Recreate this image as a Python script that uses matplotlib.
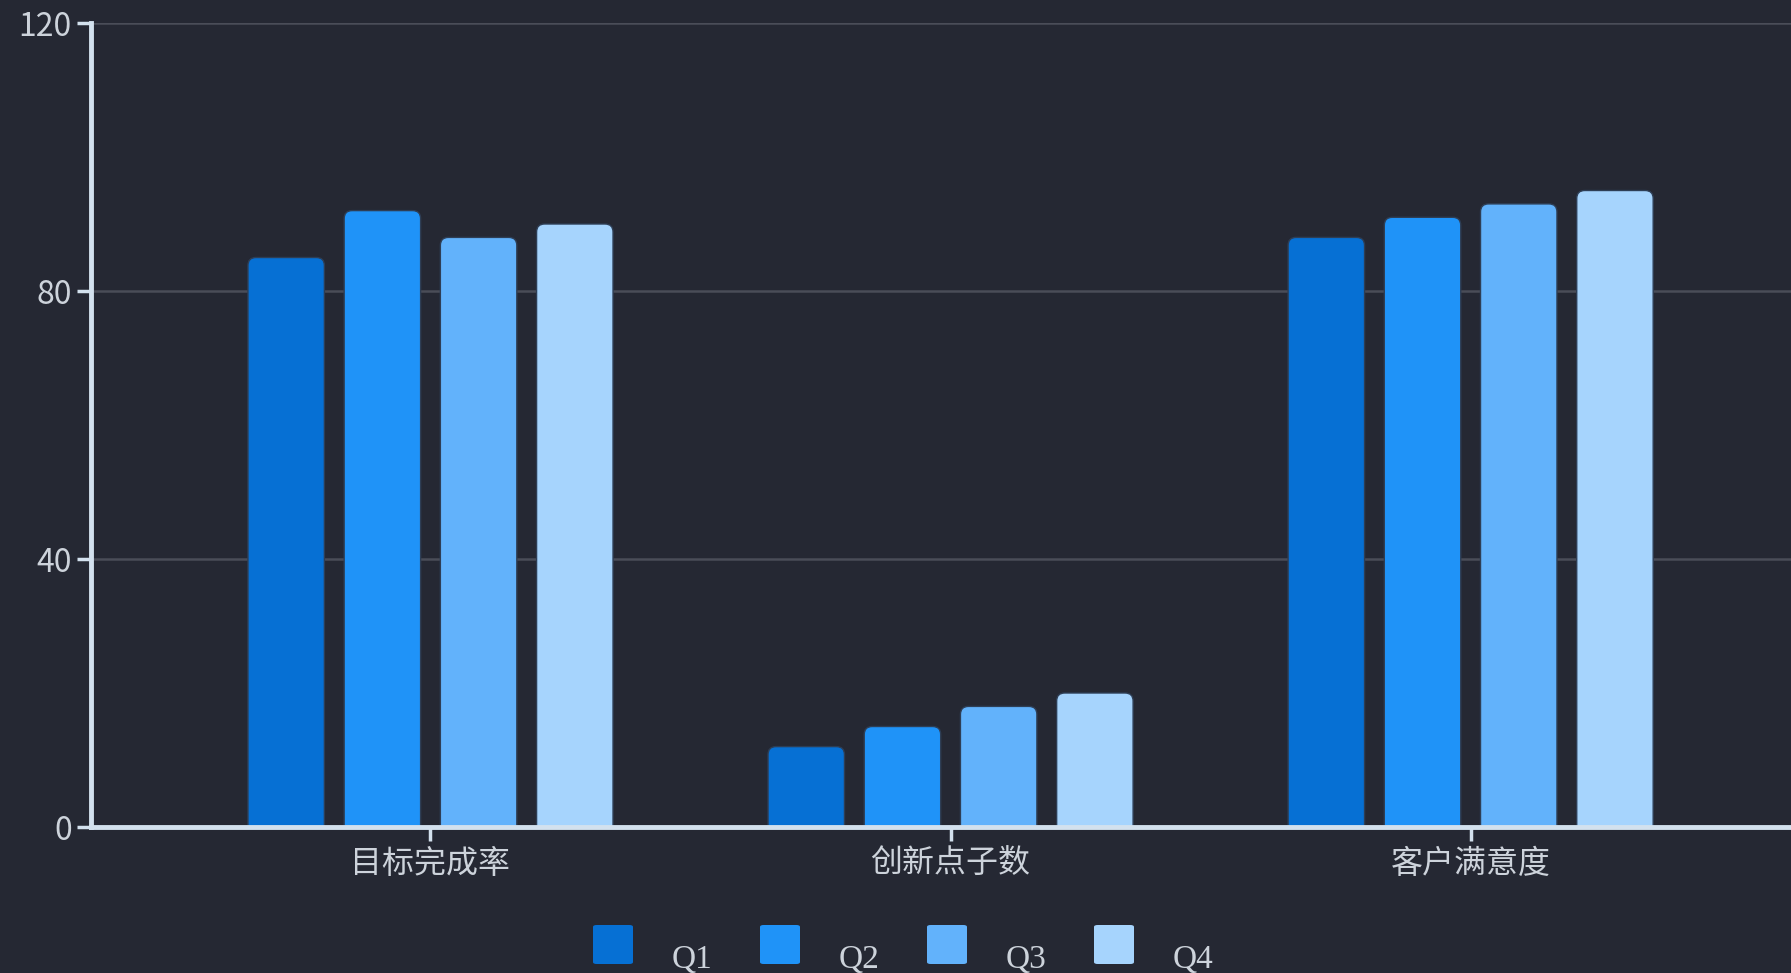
import matplotlib
matplotlib.use('Agg')
import matplotlib.pyplot as plt
from matplotlib.patches import FancyBboxPatch
import numpy as np

# data
categories = ['目标完成率', '创新点子数', '客户满意度']
quarters = ['Q1', 'Q2', 'Q3', 'Q4']
q1 = [85, 12, 88]
q2 = [92, 15, 91]
q3 = [88, 18, 93]
q4 = [90, 20, 95]
yticks = [0, 40, 80, 120]

colors = ['#0670D4', '#1F93F8', '#62B2FB', '#A6D4FD']
bg = '#252833'
axis_col = '#D3E1EE'
text_col = '#CDD3DB'
grid_col = '#4A4D58'

plt.rcParams['font.family'] = ['Noto Sans CJK SC', 'DejaVu Sans']

W, H = 1791, 973
fig = plt.figure(figsize=(W / 100, H / 100), dpi=100, facecolor=bg)
ax_l, ax_r, ax_b, ax_t = 91.4, 1791, 827, 23
ax = fig.add_axes([ax_l / W, 1 - ax_b / H, (ax_r - ax_l) / W, (ax_b - ax_t) / H])
ax.set_facecolor(bg)

xlim = (-0.652, 2.616)
ylim = (0, 120)
ax.set_xlim(*xlim)
ax.set_ylim(*ylim)

x = np.arange(len(categories))
step = 0.185
width = 0.147
series = [q1, q2, q3, q4]

# pixels per data unit, used for rounded corners
px_x = (ax_r - ax_l) / (xlim[1] - xlim[0])
px_y = (ax_b - ax_t) / (ylim[1] - ylim[0])
r_px = 8
rx = r_px / px_x
aspect = (r_px / px_y) / rx

for i, vals in enumerate(series):
    bars = ax.bar(x + (i - 1.5) * step, vals, width, color=colors[i])
    for b in bars:
        bx, bw, bh = b.get_x(), b.get_width(), b.get_height()
        b.remove()
        p = FancyBboxPatch((bx, -3), bw, bh + 3,
                           boxstyle=f'round,pad=0,rounding_size={rx}',
                           mutation_aspect=aspect, facecolor=colors[i],
                           edgecolor='#2E3E55', linewidth=1.0, zorder=3)
        ax.add_patch(p)

ax.set_yticks(yticks)
ax.set_yticklabels([str(v) for v in yticks])
ax.set_xticks(x)
ax.set_xticklabels(categories)
ax.grid(axis='y', color=grid_col, linewidth=1.8, zorder=0)
ax.set_axisbelow(True)

for s in ['top', 'right']:
    ax.spines[s].set_visible(False)
for s in ['left', 'bottom']:
    ax.spines[s].set_color(axis_col)
    ax.spines[s].set_linewidth(3.5)
    ax.spines[s].set_zorder(5)

ax.tick_params(axis='y', colors=axis_col, labelcolor=text_col, length=10,
               width=2.5, labelsize=23, pad=4)
ax.tick_params(axis='x', colors=axis_col, labelcolor=text_col, length=10,
               width=2.5, labelsize=23, pad=5)

# legend, laid out by hand to match the original spacing
leg_x0 = 593
leg_dx = 167
for i, q in enumerate(quarters):
    lx = leg_x0 + i * leg_dx
    fig.add_artist(FancyBboxPatch(((lx) / W, 1 - 964 / H), 40 / W, 39 / H,
                                  boxstyle='round,pad=0,rounding_size=0.002',
                                  transform=fig.transFigure,
                                  facecolor=colors[i], edgecolor='none'))
    fig.text((lx + 79) / W, 1 - 968 / H, q, color=text_col, fontsize=24,
             family='Liberation Serif', ha='left', va='baseline')

fig.savefig('out.png', dpi=100, facecolor=bg)
